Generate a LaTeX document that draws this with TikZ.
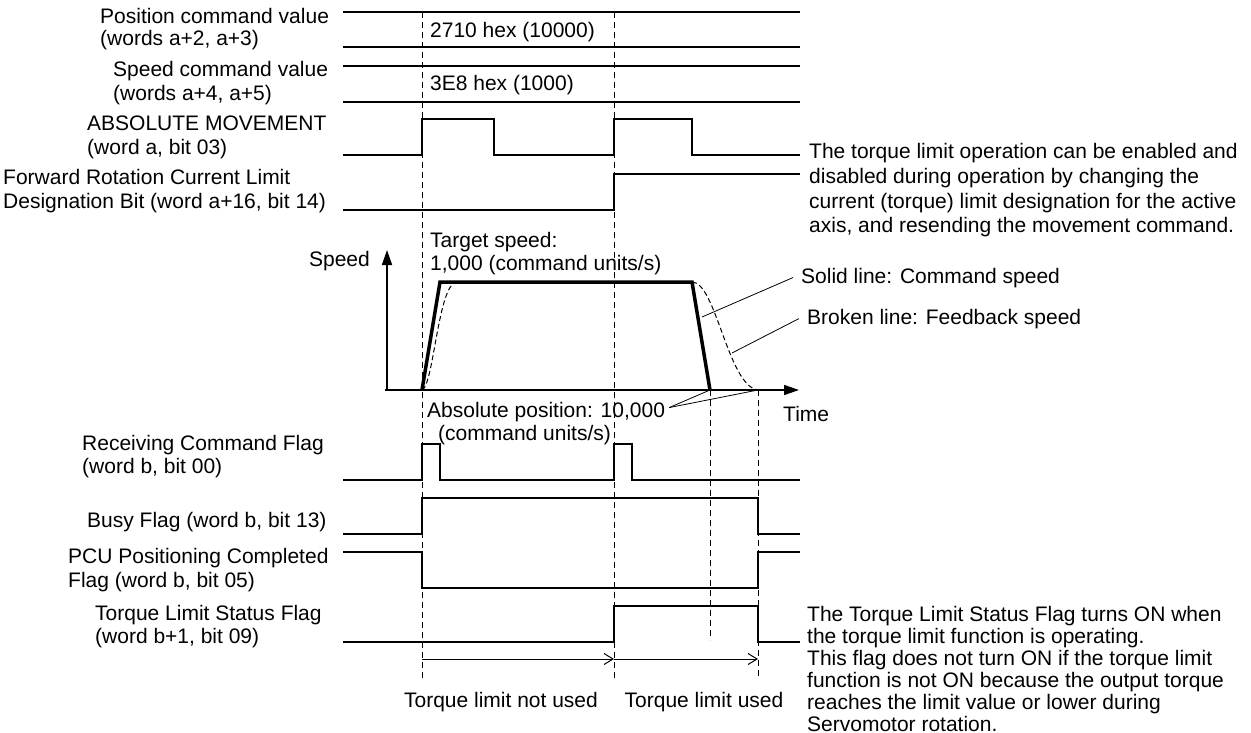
\documentclass[tikz,border=0pt]{standalone}
\usepackage{fontspec}
\setmainfont{Liberation Sans}
\usetikzlibrary{arrows.meta,calc}
\begin{document}
\begin{tikzpicture}[x=1pt,y=-1pt,
  every node/.style={font=\fontsize{21}{25}\selectfont, inner sep=0pt},
  lbl/.style={anchor=base west},
  sig/.style={line width=1.3pt, line join=miter},
  guide/.style={line width=1pt, dash pattern=on 6pt off 4pt},
  cmdline/.style={line width=3.5pt, line join=miter},
  fbline/.style={line width=1pt, dash pattern=on 5pt off 3pt},
  lead/.style={line width=0.8pt},
  axis/.style={line width=1.5pt, -{Triangle[length=15pt,width=10pt]}},
  span/.style={line width=1pt, -{Straight Barb[length=9pt,width=11pt]}}]
\useasboundingbox (0,0) rectangle (1251,733);

% ---------- left labels ----------
\node[lbl] (l1a) at (100,23.5) {Position command value};
\node[lbl] (l1b) at (100,46) {(words a+2, a+3)};
\node[lbl] (l2a) at (113,77) {Speed command value};
\node[lbl] (l2b) at (113,100.5) {(words a+4, a+5)};
\node[lbl] (l3a) at (87,131) {ABSOLUTE MOVEMENT};
\node[lbl] (l3b) at (87,154.5) {(word a, bit 03)};
\node[lbl] (l4a) at (3,185) {Forward Rotation Current Limit};
\node[lbl] (l4b) at (3,208.5) {Designation Bit (word a+16, bit 14)};
\node[lbl] (l5a) at (82,450) {Receiving Command Flag};
\node[lbl] (l5b) at (82,473) {(word b, bit 00)};
\node[lbl] (l6a) at (87,527) {Busy Flag (word b, bit 13)};
\node[lbl] (l7a) at (68,563) {PCU Positioning Completed};
\node[lbl] (l7b) at (68,587) {Flag (word b, bit 05)};
\node[lbl] (l8a) at (95,620) {Torque Limit Status Flag};
\node[lbl] (l8b) at (95,643) {(word b+1, bit 09)};

% ---------- guide lines ----------
\draw[guide] (422,12) -- (422,678);
\draw[guide] (614,12) -- (614,678);
\draw[guide] (710,390) -- (710,640);
\draw[guide] (758,390) -- (758,678);

% ---------- signals ----------
\draw[sig] (343,12) -- (800,12);
\draw[sig] (343,47) -- (800,47);
\draw[sig] (343,66) -- (800,66);
\draw[sig] (343,102) -- (800,102);
\node[lbl] (v1) at (430,38) {2710 hex (10000)};
\node[lbl] (v2) at (430,91) {3E8 hex (1000)};
\draw[sig] (343,155) -- (422,155) -- (422,119) -- (494,119) -- (494,155) -- (614,155) -- (614,119) -- (692,119) -- (692,155) -- (800,155);
\draw[sig] (343,210) -- (614,210) -- (614,174) -- (800,174);
\draw[sig] (343,480) -- (422,480) -- (422,444) -- (440,444) -- (440,480) -- (614,480) -- (614,444) -- (632,444) -- (632,480) -- (800,480);
\draw[sig] (343,534) -- (422,534) -- (422,498) -- (758,498) -- (758,534) -- (800,534);
\draw[sig] (343,552) -- (422,552) -- (422,588) -- (758,588) -- (758,552) -- (800,552);
\draw[sig] (343,642) -- (614,642) -- (614,606) -- (758,606) -- (758,642) -- (800,642);

% ---------- speed graph ----------
\draw[axis] (387,390) -- (387,250);
\draw[axis] (385,390) -- (799,390);
\node[anchor=base east] (speedlbl) at (370,266) {Speed};
\node[lbl] (timelbl) at (783,421) {Time};
\node[lbl] (ts1) at (430,247) {Target speed:};
\node[lbl] (ts2) at (430,270) {1,000 (command units/s)};
\draw[fbline] (422,390) .. controls (434,385) and (438,283) .. (457,282);
\draw[fbline] (692,282) .. controls (716,282) and (728,386) .. (758,390);
\draw[cmdline] (422,390) -- (440,282) -- (692,282) -- (710,390);
\coordinate (cmdpt) at (702,317);
\coordinate (fbpt) at (732,353);
\coordinate (end1) at (710,390);
\coordinate (end2) at (758,390);
\node[lbl] (solid) at (801,283) {Solid line: Command speed};
\node[lbl] (broken) at (807,324) {Broken line: Feedback speed};
\draw[lead] ([xshift=-8pt]solid.west) -- (cmdpt);
\draw[lead] ([xshift=-8pt]broken.west) -- (fbpt);
\node[lbl] (abs1) at (427,417) {Absolute position: 10,000};
\node[lbl] (abs2) at (438,440) {(command units/s)};
\draw[lead] ($(abs1.east)+(4,-4)$) -- (end1);
\draw[lead] ($(abs1.east)+(4,-4)$) -- (end2);

% ---------- spans ----------
\coordinate (s0) at (422,659);
\coordinate (s1) at (614,659);
\coordinate (s2) at (758,659);
\draw[span] (s0) -- (s1);
\draw[span] (s1) -- (s2);
\node[anchor=base] (notused) at (501,707) {Torque limit not used};
\node[anchor=base] (used) at (704,707) {Torque limit used};

% ---------- notes ----------
\node[lbl] (n1a) at (809,159) {The torque limit operation can be enabled and};
\node[lbl] (n1b) at (809,183.5) {disabled during operation by changing the};
\node[lbl] (n1c) at (809,208) {current (torque) limit designation for the active};
\node[lbl] (n1d) at (809,232.5) {axis, and resending the movement command.};
\node[lbl] (n2a) at (807,621) {The Torque Limit Status Flag turns ON when};
\node[lbl] (n2b) at (807,643.2) {the torque limit function is operating.};
\node[lbl] (n2c) at (807,665.4) {This flag does not turn ON if the torque limit};
\node[lbl] (n2d) at (807,687.6) {function is not ON because the output torque};
\node[lbl] (n2e) at (807,709.8) {reaches the limit value or lower during};
\node[lbl] (n2f) at (807,731) {Servomotor rotation.};
\end{tikzpicture}
\end{document}
